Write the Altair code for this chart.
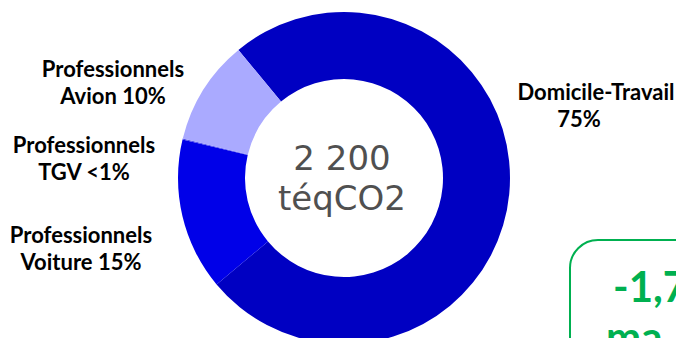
import math
import altair as alt
import pandas as pd

# ---- data ----
categories = ["Domicile-Travail", "Professionnels Voiture", "Professionnels TGV", "Professionnels Avion"]
values = [74.9, 14.8, 0.1, 10.2]
slice_order = [0, 1, 2, 3]
colors = ["#0000C2", "#0000E8", "#4040F0", "#AAAAFF"]

center_lines = ["2 200", "téqCO2"]
label_avion = ["Professionnels", "Avion 10%"]
label_tgv = ["Professionnels", "TGV <1%"]
label_voiture = ["Professionnels", "Voiture 15%"]
label_domicile = ["Domicile-Travail", "75%"]
box_lines = ["-1,7", "ma"]

W, H = 676, 338
CX, CY = 344, 178
start = math.radians(-39.5)

df = pd.DataFrame({"cat": categories, "value": values, "idx": slice_order})

donut = alt.Chart(df).mark_arc(innerRadius=99, outerRadius=166).encode(
    theta=alt.Theta("value:Q", stack=True,
                    scale=alt.Scale(domain=[0, sum(values)], range=[start, start + 2 * math.pi], nice=False, zero=True)),
    color=alt.Color("cat:N", scale=alt.Scale(domain=categories, range=colors), legend=None),
    order=alt.Order("idx:Q", sort="ascending"),
    x=alt.value(CX),
    y=alt.value(CY),
)


def text_layer(lines, x, y, size, color, font, weight="normal", align="center", line_height=27):
    d = pd.DataFrame({"t": ["\n".join(lines)]})
    return alt.Chart(d).mark_text(
        align=align, baseline="alphabetic", fontSize=size, font=font, fontWeight=weight,
        color=color, lineBreak="\n", lineHeight=line_height,
    ).encode(text="t:N", x=alt.value(x), y=alt.value(y))


lab_font = "Lato"
LS = 22
layers = [
    donut,
    text_layer(center_lines, 342, 170, 34, "#505050", "DejaVu Sans", line_height=40),
    text_layer(label_avion, 113, 77, LS, "#000000", lab_font, "bold"),
    text_layer(label_tgv, 84, 153, LS, "#000000", lab_font, "bold"),
    text_layer(label_voiture, 81, 243, LS, "#000000", lab_font, "bold"),
    text_layer(label_domicile[:1], 596, 100, LS, "#000000", lab_font, "bold"),
    text_layer(label_domicile[1:], 579, 127, LS, "#000000", lab_font, "bold"),
]

box = alt.Chart(pd.DataFrame({"k": [1]})).mark_rect(
    cornerRadius=28, fill="white", stroke="#00B050", strokeWidth=2
).encode(x=alt.value(570), x2=alt.value(760), y=alt.value(240), y2=alt.value(420))

layers.append(box)
layers.append(text_layer(box_lines[:1], 613, 302, 42, "#00B050", lab_font, "bold", align="left"))
layers.append(text_layer(box_lines[1:], 606, 352, 42, "#00B050", lab_font, "bold", align="left"))

chart = alt.layer(*layers).properties(
    width=W, height=H, autosize=alt.AutoSizeParams(type="none"), padding=0,
).configure_view(stroke=None)

chart.save("out.html", embed_options={"renderer": "svg", "actions": False})
